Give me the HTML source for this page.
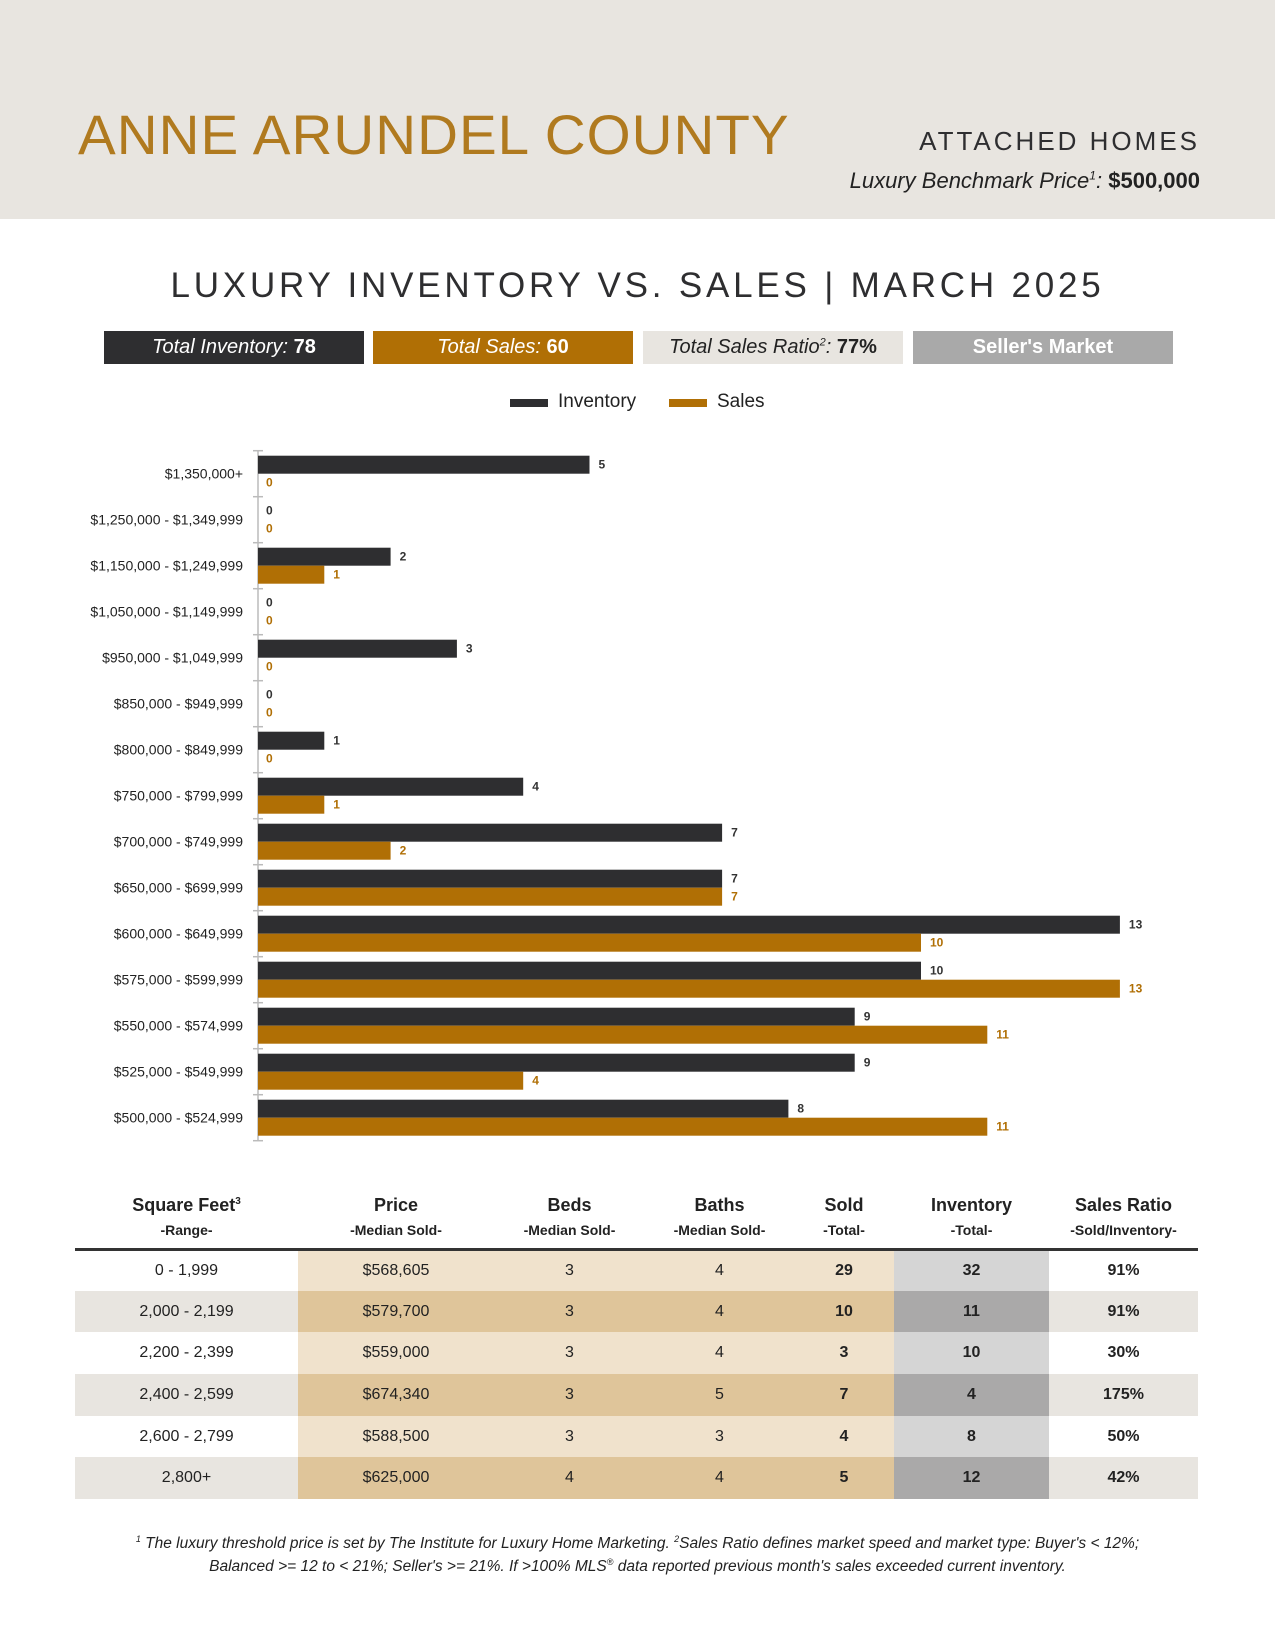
<!DOCTYPE html>
<html><head><meta charset="utf-8"><style>
*{margin:0;padding:0;box-sizing:border-box}
body{width:1275px;height:1650px;background:#fff;position:relative;font-family:"Liberation Sans",sans-serif;overflow:hidden}
.abs{position:absolute}
sup{line-height:0}
.hdr{left:0;top:0;width:1275px;height:219px;background:#e8e5e0}
.box{top:331px;height:33px;width:260px;font-size:20px;line-height:33px;text-align:center;font-style:italic}
table{position:absolute;left:75px;top:1192px;width:1123px;border-collapse:collapse;font-size:16px;color:#222;table-layout:fixed}
th{font-weight:bold;font-size:18px;height:57px;vertical-align:top;line-height:26px}
th small{font-size:14px;display:block;line-height:24px}
td{height:41.7px;text-align:center}
thead tr{border-bottom:3px solid #333}
</style></head><body>
<div class="abs hdr"></div>
<div class="abs" style="left:78px;top:100px;font-size:56px;color:#b07a1f;letter-spacing:1px;line-height:70px;transform:scaleX(1.01);transform-origin:left">ANNE ARUNDEL COUNTY</div>
<div class="abs" style="left:905px;top:126px;width:295px;text-align:right;font-size:26px;color:#2e2e30;letter-spacing:3px;line-height:30px">ATTACHED HOMES</div>
<div class="abs" style="left:780px;top:166px;width:420px;text-align:right;font-size:22px;color:#222;line-height:30px"><i>Luxury Benchmark Price<sup style="font-size:12px">1</sup>:</i> <b>$500,000</b></div>
<div class="abs" style="left:0;top:264px;width:1275px;text-align:center;font-size:35px;color:#2e2e30;letter-spacing:3.8px;line-height:44px">LUXURY INVENTORY VS. SALES | MARCH 2025</div>
<div class="abs box" style="left:104px;background:#2e2e30;color:#fff">Total Inventory: <b style="font-style:normal">78</b></div>
<div class="abs box" style="left:373px;background:#b06f05;color:#fff">Total Sales: <b style="font-style:normal">60</b></div>
<div class="abs box" style="left:643px;background:#e8e5e0;color:#222">Total Sales Ratio<sup style="font-size:11px">2</sup>: <b style="font-style:normal">77%</b></div>
<div class="abs box" style="left:913px;background:#a9a9a9;color:#fff;font-style:normal;font-weight:bold">Seller's Market</div>
<div class="abs" style="left:510px;top:399px;width:38px;height:8px;background:#2e2e30"></div>
<div class="abs" style="left:558px;top:391px;font-size:19px;color:#222">Inventory</div>
<div class="abs" style="left:669px;top:399px;width:38px;height:8px;background:#b06f05"></div>
<div class="abs" style="left:717px;top:391px;font-size:19px;color:#222">Sales</div>
<svg class="abs" style="left:0;top:0" width="1275" height="1160" font-family="Liberation Sans, sans-serif">
<g id="c"></g>
</svg>
<script>
var d=[["$1,350,000+",5,0],["$1,250,000 - $1,349,999",0,0],["$1,150,000 - $1,249,999",2,1],["$1,050,000 - $1,149,999",0,0],["$950,000 - $1,049,999",3,0],["$850,000 - $949,999",0,0],["$800,000 - $849,999",1,0],["$750,000 - $799,999",4,1],["$700,000 - $749,999",7,2],["$650,000 - $699,999",7,7],["$600,000 - $649,999",13,10],["$575,000 - $599,999",10,13],["$550,000 - $574,999",9,11],["$525,000 - $549,999",9,4],["$500,000 - $524,999",8,11]];
var s='',X=258,U=66.3;
s+='<line x1="258" y1="450.7" x2="258" y2="1140.7" stroke="#bbb" stroke-width="1.5"/>';
for(var i=0;i<=15;i++){var ty=450.7+46*i;s+='<line x1="253" y1="'+ty+'" x2="263" y2="'+ty+'" stroke="#bbb" stroke-width="1.5"/>';}
d.forEach(function(r,i){var t=455.7+46*i;
s+='<text x="243" y="'+(t+23)+'" text-anchor="end" font-size="14" fill="#222">'+r[0]+'</text>';
if(r[1])s+='<rect x="258" y="'+t+'" width="'+(r[1]*U)+'" height="18" fill="#2e2e30"/>';
if(r[2])s+='<rect x="258" y="'+(t+18)+'" width="'+(r[2]*U)+'" height="18" fill="#b06f05"/>';
s+='<text x="'+(X+r[1]*U+(r[1]?9:8))+'" y="'+(t+13)+'" font-size="12" font-weight="bold" fill="#333">'+r[1]+'</text>';
s+='<text x="'+(X+r[2]*U+(r[2]?9:8))+'" y="'+(t+31)+'" font-size="12" font-weight="bold" fill="#b06f05">'+r[2]+'</text>';
});
document.getElementById('c').innerHTML=s;
</script>
<table>
<colgroup><col style="width:223px"><col style="width:196px"><col style="width:151px"><col style="width:149px"><col style="width:100px"><col style="width:155px"><col style="width:149px"></colgroup>
<thead><tr><th>Square Feet<sup style="font-size:10px">3</sup><small>-Range-</small></th><th>Price<small>-Median Sold-</small></th><th>Beds<small>-Median Sold-</small></th><th>Baths<small>-Median Sold-</small></th><th>Sold<small>-Total-</small></th><th>Inventory<small>-Total-</small></th><th>Sales Ratio<small>-Sold/Inventory-</small></th></tr></thead>
<tbody id="tb"></tbody></table>
<script>
var rows=[["0 - 1,999","$568,605",3,4,29,32,"91%"],["2,000 - 2,199","$579,700",3,4,10,11,"91%"],["2,200 - 2,399","$559,000",3,4,3,10,"30%"],["2,400 - 2,599","$674,340",3,5,7,4,"175%"],["2,600 - 2,799","$588,500",3,3,4,8,"50%"],["2,800+","$625,000",4,4,5,12,"42%"]];
var h='';rows.forEach(function(r,i){var dk=i%2==1;var a=dk?'#e8e5e0':'#fff',b=dk?'#dfc59a':'#f0e2cc',c=dk?'#aaa9a9':'#d5d5d5';
h+='<tr><td style="background:'+a+'">'+r[0]+'</td><td style="background:'+b+'">'+r[1]+'</td><td style="background:'+b+'">'+r[2]+'</td><td style="background:'+b+'">'+r[3]+'</td><td style="background:'+b+';font-weight:bold">'+r[4]+'</td><td style="background:'+c+';font-weight:bold">'+r[5]+'</td><td style="background:'+a+';font-weight:bold">'+r[6]+'</td></tr>';});
document.getElementById('tb').innerHTML=h;
</script>
<div class="abs" style="left:60px;top:1532px;width:1155px;text-align:center;font-size:15.5px;font-style:italic;color:#222;line-height:23px"><sup style="font-size:9px">1</sup> The luxury threshold price is set by The Institute for Luxury Home Marketing. <sup style="font-size:9px">2</sup>Sales Ratio defines market speed and market type: Buyer's &lt; 12%;<br>Balanced &gt;= 12 to &lt; 21%; Seller's &gt;= 21%. If &gt;100% MLS<sup style="font-size:9px">®</sup> data reported previous month's sales exceeded current inventory.</div>
</body></html>
